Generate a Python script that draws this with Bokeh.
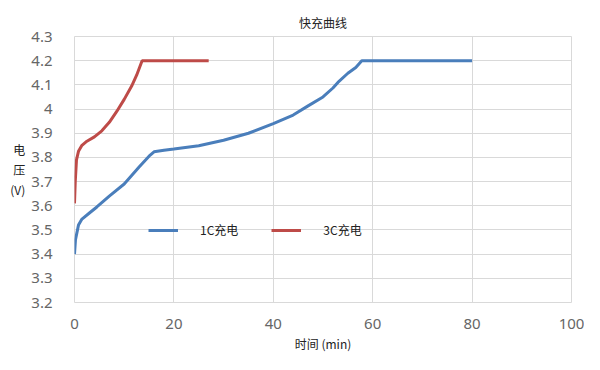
from bokeh.plotting import figure
from bokeh.models import FixedTicker, Legend, LegendItem, Range1d
from bokeh.embed import file_html
from bokeh.resources import INLINE

# ---- data ----
title_text = "快充曲线"
x_label = "时间 (min)"
y_label = "电\n压\n(V)"
series_names = ["1C充电", "3C充电"]

time_1c = [0, 0.2, 0.8, 1.5, 3, 4.5, 7, 10, 13, 15, 16, 18, 20, 25, 30, 35,
           40, 44, 47, 50, 52, 53, 55, 56.6, 57.8, 65, 70, 80]
volt_1c = [3.40, 3.46, 3.52, 3.545, 3.57, 3.595, 3.64, 3.69, 3.76, 3.805, 3.823,
           3.83, 3.835, 3.848, 3.871, 3.90, 3.94, 3.975, 4.013, 4.05, 4.087,
           4.11, 4.148, 4.172, 4.20, 4.20, 4.20, 4.20]

time_3c = [0, 0.15, 0.4, 0.8, 1.5, 2.5, 4, 5.5, 7, 8.5, 10, 11.5, 12.5, 13.6, 20, 27]
volt_3c = [3.61, 3.70, 3.79, 3.825, 3.85, 3.867, 3.885, 3.91, 3.945, 3.99, 4.04,
           4.095, 4.14, 4.20, 4.20, 4.20]

x_ticks = [0, 20, 40, 60, 80, 100]
y_ticks = [3.2, 3.3, 3.4, 3.5, 3.6, 3.7, 3.8, 3.9, 4.0, 4.1, 4.2, 4.3]

colors = ["#4A7EBB", "#BE4B48"]

p = figure(width=584, height=354, output_backend="svg",
           toolbar_location=None,
           x_range=Range1d(0, 100), y_range=Range1d(3.2, 4.3),
           min_border_left=74, min_border_right=13, min_border_top=36,
           min_border_bottom=50)

p.title.text = title_text
p.title.align = "center"
p.title.text_font = "Noto Sans CJK SC"
p.title.text_font_size = "12px"
p.title.text_font_style = "normal"
p.title.text_color = "#222222"
p.title.standoff = 11

r1 = p.line(time_1c, volt_1c, line_color=colors[0], line_width=3)
r2 = p.line(time_3c, volt_3c, line_color=colors[1], line_width=3)

# axes
p.xaxis.ticker = FixedTicker(ticks=x_ticks)
p.yaxis.ticker = FixedTicker(ticks=y_ticks)
p.yaxis.major_label_overrides = {4.0: "4"}
for ax in (p.xaxis[0], p.yaxis[0]):
    ax.axis_line_color = None
    ax.major_tick_line_color = None
    ax.minor_tick_line_color = None
    ax.major_label_text_font = "Noto Sans"
    ax.major_label_text_font_size = "15px"
    ax.major_label_text_color = "#666666"
    ax.axis_label_text_font = "Noto Sans CJK SC"
    ax.axis_label_text_font_size = "12px"
    ax.axis_label_text_font_style = "normal"
    ax.axis_label_text_color = "#222222"

p.xaxis.major_label_standoff = 10
p.xaxis.axis_label = x_label
p.xaxis.axis_label_standoff = 3
p.yaxis.major_label_standoff = 16
p.yaxis.axis_label = y_label
p.yaxis.axis_label_orientation = "horizontal"
p.yaxis.axis_label_standoff = 3
p.yaxis.axis_label_text_line_height = 1.15

p.xgrid.grid_line_color = "#D9D9D9"
p.ygrid.grid_line_color = "#D9D9D9"
p.outline_line_color = "#D9D9D9"

legend = Legend(items=[LegendItem(label=series_names[0], renderers=[r1]),
                       LegendItem(label=series_names[1], renderers=[r2])],
                orientation="horizontal", location=(74, 64),
                margin=0, padding=0, spacing=33, glyph_width=30,
                glyph_height=14, label_height=14, label_standoff=22,
                border_line_color=None, background_fill_alpha=0,
                label_text_font="Noto Sans CJK SC", label_text_font_size="12px",
                label_text_color="#222222")
p.add_layout(legend)

p.background_fill_color = "white"
p.border_fill_color = "white"

open("out.html", "w").write(file_html(p, INLINE))
